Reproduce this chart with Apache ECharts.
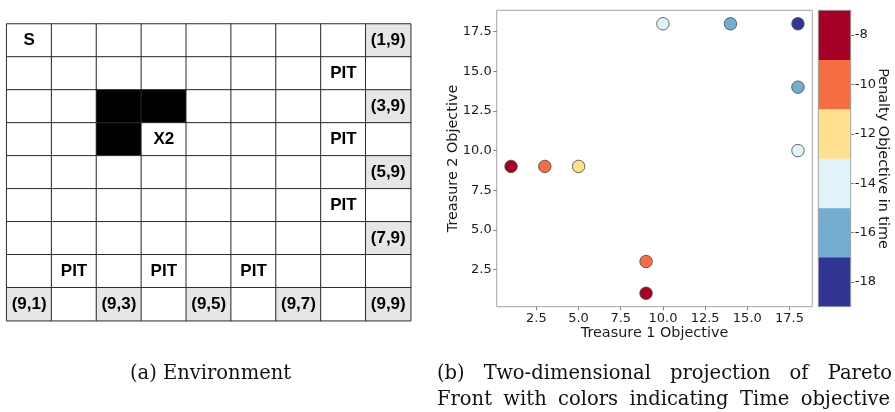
<!DOCTYPE html>
<html>
<head>
<meta charset="utf-8">
<script src="https://cdn.jsdelivr.net/npm/echarts@6/dist/echarts.min.js"></script>
<style>
html,body{margin:0;padding:0;background:#fff;}
#chart{width:895px;height:412px;}
</style>
</head>
<body>
<div id="chart"></div>
<script>
// ---------- Environment (a) ----------
const envCols = ['1','2','3','4','5','6','7','8','9'];
const envRows = ['1','2','3','4','5','6','7','8','9'];
// [row, col]
const treasureCells = [[0,8],[2,8],[4,8],[6,8],[8,8],[8,0],[8,2],[8,4],[8,6]];
const wallCells = [[2,2],[2,3],[3,2]];
// [row, col, text]
const cellLabels = [
  [0,0,'S'],[0,8,'(1,9)'],[1,7,'PIT'],[2,8,'(3,9)'],[3,3,'X2'],[3,7,'PIT'],
  [4,8,'(5,9)'],[5,7,'PIT'],[6,8,'(7,9)'],[7,1,'PIT'],[7,3,'PIT'],[7,5,'PIT'],
  [8,0,'(9,1)'],[8,2,'(9,3)'],[8,4,'(9,5)'],[8,6,'(9,7)'],[8,8,'(9,9)']
];

// ---------- Pareto front (b) ----------
const treasure1 = [1, 3, 5, 9, 9, 10, 14, 18, 18, 18];
const treasure2 = [9, 9, 9, 3, 1, 18, 18, 18, 14, 10];
const penalty   = [-8, -10, -12, -10, -8, -14, -16, -18, -16, -14];
const axisTicks = [2.5, 5, 7.5, 10, 12.5, 15, 17.5];
const penaltyTicks = [-18, -16, -14, -12, -10, -8];
const binColors = ['#313695', '#74add1', '#e0f3f8', '#fee090', '#f46d43', '#a50026'];

const captionA = '(a) Environment';
const captionB1 = ['(b)', 'Two-dimensional', 'projection', 'of', 'Pareto'];
const captionB2 = ['Front', 'with', 'colors', 'indicating', 'Time', 'objective'];

const key = (r, c) => r + '_' + c;
const treasureSet = new Set(treasureCells.map(d => key(d[0], d[1])));
const wallSet = new Set(wallCells.map(d => key(d[0], d[1])));
const labelMap = {};
cellLabels.forEach(d => { labelMap[key(d[0], d[1])] = d[2]; });

const envData = [];
for (let r = 0; r < envRows.length; r++) {
  for (let c = 0; c < envCols.length; c++) {
    const k = key(r, c);
    const color = wallSet.has(k) ? '#000000' : (treasureSet.has(k) ? '#e6e6e6' : '#ffffff');
    envData.push({ value: [c, r, 0], itemStyle: { color: color } });
  }
}

const scatterData = treasure1.map((x, i) => [x, treasure2[i], penalty[i]]);
const barData = penaltyTicks.map((v, i) => [0, i, v]);
const pieces = penaltyTicks.map((v, i) => ({ gte: v - 1, lt: v + 1, color: binColors[i] }));

const tickFont = { fontFamily: 'DejaVu Sans', fontSize: 13, color: '#1a1a1a' };
const frameColor = '#a6a6a6';

function valueAxis(gridIndex) {
  return {
    type: 'value', gridIndex: gridIndex, min: 0.15, max: 18.85,
    axisLine: { show: false },
    splitLine: { show: false },
    axisTick: { show: true, length: 3.5, customValues: axisTicks, lineStyle: { color: '#666', width: 0.8 } },
    axisLabel: Object.assign({ margin: 5, customValues: axisTicks, formatter: v => Number(v).toFixed(1) }, tickFont)
  };
}

const capFont = { fontFamily: 'DejaVu Serif', fontSize: 19.5, fill: '#111' };
const measureCtx = document.createElement('canvas').getContext('2d');
measureCtx.font = '19.5px "DejaVu Serif"';
function word(text, x, y, align) {
  return { type: 'text', x: x, y: y, style: Object.assign({ text: text, align: align || 'center', verticalAlign: 'middle' }, capFont) };
}
// justified line: words spread evenly between left and right
function justify(words, left, right, y) {
  const widths = words.map(w => measureCtx.measureText(w).width);
  const total = widths.reduce((a, b) => a + b, 0);
  const gap = (right - left - total) / (words.length - 1);
  let x = left;
  return words.map((w, i) => { const el = word(w, x, y, 'left'); x += widths[i] + gap; return el; });
}
const titleFont = { fontFamily: 'DejaVu Sans', fontSize: 14.4, fill: '#1a1a1a' };

const graphics = [
  word(captionA, 210.5, 373.5),
  ...justify(captionB1, 437, 892, 373.5),
  ...justify(captionB2, 437, 890, 399.5),
  { type: 'text', x: 654.5, y: 333, style: Object.assign({ text: 'Treasure 1 Objective', align: 'center', verticalAlign: 'middle' }, titleFont) },
  { type: 'text', x: 453, y: 158.5, rotation: Math.PI / 2, style: Object.assign({ text: 'Treasure 2 Objective', align: 'center', verticalAlign: 'middle' }, titleFont) },
  { type: 'text', x: 883, y: 158.5, rotation: -Math.PI / 2, style: Object.assign({ text: 'Penalty Objective in time', align: 'center', verticalAlign: 'middle' }, titleFont) }
];

const chart = echarts.init(document.getElementById('chart'), null, { renderer: 'canvas' });
chart.setOption({
  animation: false,
  backgroundColor: '#ffffff',
  grid: [
    { left: 6.7, top: 24, width: 404, height: 296.7, show: false },
    { left: 496.7, top: 10.3, width: 315.6, height: 296.4, show: true, borderColor: frameColor, borderWidth: 1, backgroundColor: 'transparent' },
    { left: 818.3, top: 10.3, width: 32.4, height: 296.4, show: true, borderColor: frameColor, borderWidth: 1, backgroundColor: 'transparent', z: 5 }
  ],
  xAxis: [
    { type: 'category', gridIndex: 0, data: envCols, show: false },
    valueAxis(1),
    { type: 'category', gridIndex: 2, data: [''], show: false }
  ],
  yAxis: [
    { type: 'category', gridIndex: 0, data: envRows, inverse: true, show: false },
    valueAxis(1),
    {
      type: 'category', gridIndex: 2, data: penaltyTicks.map(String), position: 'right',
      axisLine: { show: false }, splitLine: { show: false },
      axisTick: { show: true, alignWithLabel: true, length: 3.5, lineStyle: { color: '#666', width: 0.8 } },
      axisLabel: Object.assign({ margin: 4 }, tickFont)
    }
  ],
  visualMap: {
    type: 'piecewise', show: false, seriesIndex: [1, 2], dimension: 2, pieces: pieces
  },
  series: [
    {
      type: 'heatmap', xAxisIndex: 0, yAxisIndex: 0, data: envData,
      itemStyle: { borderColor: '#2b2b2b', borderWidth: 1 },
      emphasis: { disabled: true },
      label: {
        show: true, fontFamily: 'Liberation Sans', fontWeight: 'bold', fontSize: 17, color: '#000',
        formatter: p => labelMap[key(p.value[1], p.value[0])] || ''
      }
    },
    {
      type: 'scatter', xAxisIndex: 1, yAxisIndex: 1, data: scatterData,
      symbolSize: 12.5,
      itemStyle: { borderColor: '#444', borderWidth: 0.8, opacity: 1 },
      emphasis: { disabled: true }
    },
    {
      type: 'heatmap', xAxisIndex: 2, yAxisIndex: 2, data: barData,
      emphasis: { disabled: true }, label: { show: false }
    }
  ],
  graphic: graphics
});
</script>
</body>
</html>
